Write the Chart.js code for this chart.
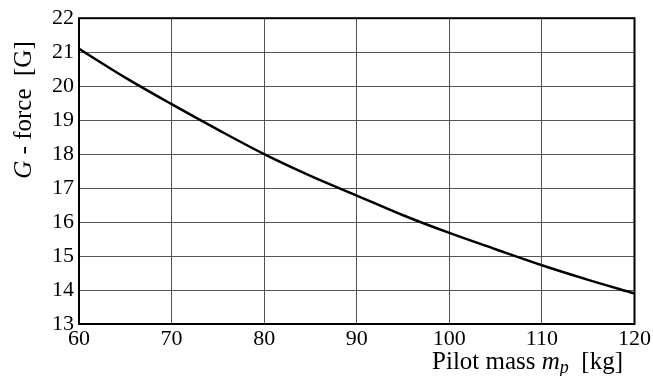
<!DOCTYPE html>
<html>
<head>
<meta charset="utf-8">
<script src="https://cdn.jsdelivr.net/npm/chart.js@4"></script>
<style>
  html, body { margin: 0; padding: 0; background: #fff; }
  #wrap { width: 653px; height: 376px; position: relative; }
</style>
</head>
<body>
<div id="wrap"><canvas id="c"></canvas></div>
<script>
// pilot mass [kg] vs G-force [G]
const masses = [60, 65, 70, 75, 80, 85, 90, 95, 100, 105, 110, 115, 120];
const gForce = [21.1, 20.25, 19.47, 18.72, 18.0, 17.36, 16.78, 16.2, 15.68, 15.2, 14.73, 14.3, 13.9];
const xTicks = [60, 70, 80, 90, 100, 110, 120];
const yTicks = [13, 14, 15, 16, 17, 18, 19, 20, 21, 22];

const serif = "'Liberation Serif', 'DejaVu Serif', serif";

// frame round the plot plus the two axis titles (mixed italic)
const framePlugin = {
  id: "frame",
  afterDraw(chart) {
    const { ctx, chartArea: a } = chart;
    ctx.save();
    ctx.strokeStyle = "#000";
    ctx.lineWidth = 2;
    ctx.strokeRect(a.left, a.top, a.right - a.left, a.bottom - a.top);

    ctx.fillStyle = "#000";
    ctx.textBaseline = "alphabetic";

    // x title, right aligned
    const parts = [
      ["Pilot mass ", "25px " + serif],
      ["m", "italic 25px " + serif],
      ["p", "italic 18px " + serif, 4],
      ["  [kg]", "25px " + serif],
    ];
    let w = 0;
    parts.forEach(p => { ctx.font = p[1]; w += ctx.measureText(p[0]).width; });
    let x = 623 - w;
    parts.forEach(p => {
      ctx.font = p[1];
      ctx.fillText(p[0], x, 369 + (p[2] || 0));
      x += ctx.measureText(p[0]).width;
    });

    // y title, rotated
    ctx.translate(31, 110);
    ctx.rotate(-Math.PI / 2);
    const yparts = [
      ["G", "italic 25px " + serif],
      [" - force  [G]", "25px " + serif],
    ];
    w = 0;
    yparts.forEach(p => { ctx.font = p[1]; w += ctx.measureText(p[0]).width; });
    x = -w / 2;
    yparts.forEach(p => {
      ctx.font = p[1];
      ctx.fillText(p[0], x, 0);
      x += ctx.measureText(p[0]).width;
    });
    ctx.restore();
  }
};

new Chart(document.getElementById("c"), {
  type: "line",
  data: {
    datasets: [{
      data: masses.map((m, i) => ({ x: m, y: gForce[i] })),
      borderColor: "#000",
      borderWidth: 2.5,
      pointRadius: 0,
      cubicInterpolationMode: "monotone",
      fill: false,
    }]
  },
  options: {
    responsive: true,
    maintainAspectRatio: false,
    animation: false,
    layout: { padding: { top: 15, right: 16, left: 0, bottom: 0 } },
    plugins: { legend: { display: false }, tooltip: { enabled: false } },
    scales: {
      x: {
        type: "linear",
        min: 60, max: 120,
        afterBuildTicks: s => { s.ticks = xTicks.map(v => ({ value: v })); },
        afterFit: s => { s.height = 52; },
        grid: { color: "#555", lineWidth: 1, drawTicks: false },
        border: { display: false },
        ticks: { color: "#000", padding: 2, font: { family: serif, size: 22 } },
      },
      y: {
        min: 13, max: 22,
        afterBuildTicks: s => { s.ticks = yTicks.map(v => ({ value: v })); },
        afterFit: s => { s.width = 79; },
        grid: { color: "#555", lineWidth: 1, drawTicks: false },
        border: { display: false },
        ticks: { color: "#000", padding: 5, font: { family: serif, size: 22 } },
      }
    }
  },
  plugins: [framePlugin]
});
</script>
</body>
</html>
